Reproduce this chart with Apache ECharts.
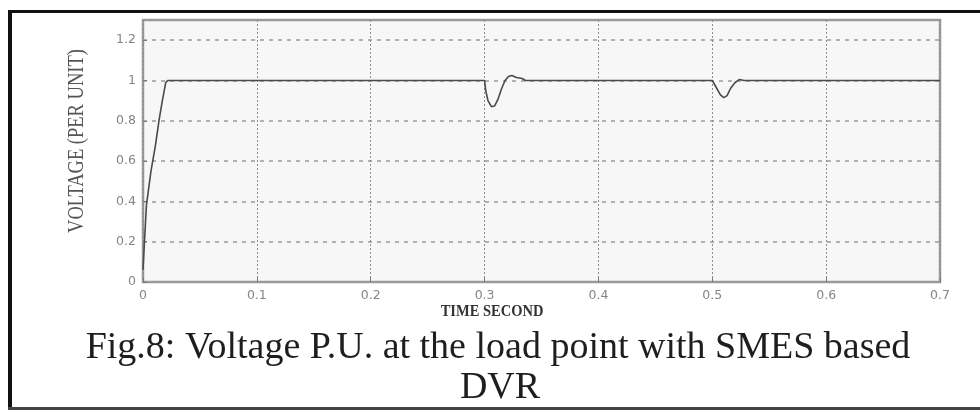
<!DOCTYPE html>
<html lang="en">
<head>
    <meta charset="UTF-8">
    <title>Voltage P.U.</title>
    <script src="https://cdn.jsdelivr.net/npm/echarts@6/dist/echarts.min.js"></script>
    <style>
        *{
            padding:0;
            margin:0;
        }
        html,body{
            background:#fff;
        }
        #main{
            width:980px;
            height:412px;
        }
    </style>
</head>
<body>
<div id="main"></div>
<script>
    // time (s) and load voltage (p.u.)
    var times = [0, 0.003, 0.007, 0.011, 0.014, 0.017, 0.02, 0.022,
        0.3, 0.301, 0.303, 0.306, 0.309, 0.312, 0.315, 0.318, 0.321, 0.324, 0.328, 0.333, 0.336,
        0.5, 0.503, 0.507, 0.51, 0.513, 0.516, 0.52, 0.524, 0.528,
        0.7];
    var volts = [0.06, 0.38, 0.55, 0.68, 0.8, 0.9, 0.99, 1.0,
        1.0, 0.95, 0.9, 0.87, 0.875, 0.91, 0.96, 1.0, 1.02, 1.025, 1.015, 1.01, 1.0,
        1.0, 0.97, 0.93, 0.915, 0.925, 0.96, 0.99, 1.005, 1.0,
        1.0];
    var xTicks = ['0', '0.1', '0.2', '0.3', '0.4', '0.5', '0.6', '0.7'];
    var yTicks = ['0', '0.2', '0.4', '0.6', '0.8', '1', '1.2'];

    var points = [];
    for (var i = 0; i < times.length; i++) {
        points.push([times[i], volts[i]]);
    }

    var myChart = echarts.init(document.getElementById('main'));
    var option = {
        backgroundColor: '#fff',
        animation: false,
        grid: {
            left: 143,
            right: 40,
            top: 20,
            bottom: 130,
            show: true,
            backgroundColor: '#f7f7f7',
            borderColor: '#9a9a9a',
            borderWidth: 2.5
        },
        xAxis: {
            type: 'value',
            min: 0,
            max: 0.7,
            interval: 0.1,
            axisLine: {show: false},
            axisTick: {show: true, inside: true, length: 4, lineStyle: {color: '#777'}},
            axisLabel: {
                margin: 7,
                color: '#858585',
                fontFamily: 'DejaVu Sans',
                fontSize: 12.5,
                formatter: function (v) {
                    var k = Math.round(v * 10);
                    return xTicks[k];
                }
            },
            splitLine: {
                show: true,
                lineStyle: {color: '#8c8c8c', type: [2, 2], width: 1}
            }
        },
        yAxis: {
            type: 'value',
            min: 0,
            max: 1.3,
            interval: 0.2,
            axisLine: {show: false},
            axisTick: {show: true, inside: true, length: 4, lineStyle: {color: '#777'}},
            axisLabel: {
                margin: 7,
                color: '#858585',
                fontFamily: 'DejaVu Sans',
                fontSize: 12.5,
                showMaxLabel: false,
                formatter: function (v) {
                    var k = Math.round(v * 5);
                    return yTicks[k] || '';
                }
            },
            splitLine: {
                show: true,
                lineStyle: {color: '#9a9a9a', type: [4, 5], width: 1.5}
            }
        },
        graphic: [
            {type: 'rect', shape: {x: 8, y: 10, width: 972, height: 3}, style: {fill: '#111'}},
            {type: 'rect', shape: {x: 8, y: 10, width: 4, height: 400}, style: {fill: '#111'}},
            {type: 'rect', shape: {x: 8, y: 407, width: 972, height: 3}, style: {fill: '#444'}},
            {
                type: 'text', x: 77, y: 141, rotation: Math.PI / 2, scaleY: 1.2,
                style: {
                    text: 'VOLTAGE (PER UNIT)', fill: '#555',
                    font: '18.5px "Liberation Serif"', align: 'center', verticalAlign: 'middle'
                }
            },
            {
                type: 'text', x: 492, y: 312, scaleY: 1.1,
                style: {
                    text: 'TIME SECOND', fill: '#333',
                    font: 'bold 14.5px "Liberation Serif"', align: 'center', verticalAlign: 'middle'
                }
            },
            {
                type: 'text', x: 498, y: 348,
                style: {
                    text: 'Fig.8: Voltage P.U. at the load point with SMES based', fill: '#1e1e1e',
                    font: '38px "Liberation Serif"', align: 'center', verticalAlign: 'middle'
                }
            },
            {
                type: 'text', x: 500, y: 388,
                style: {
                    text: 'DVR', fill: '#1e1e1e',
                    font: '38px "Liberation Serif"', align: 'center', verticalAlign: 'middle'
                }
            }
        ],
        series: [
            {
                type: 'line',
                data: points,
                showSymbol: false,
                lineStyle: {color: '#4a4a4a', width: 1.6},
                z: 3
            }
        ]
    };
    myChart.setOption(option);
</script>
</body>
</html>
